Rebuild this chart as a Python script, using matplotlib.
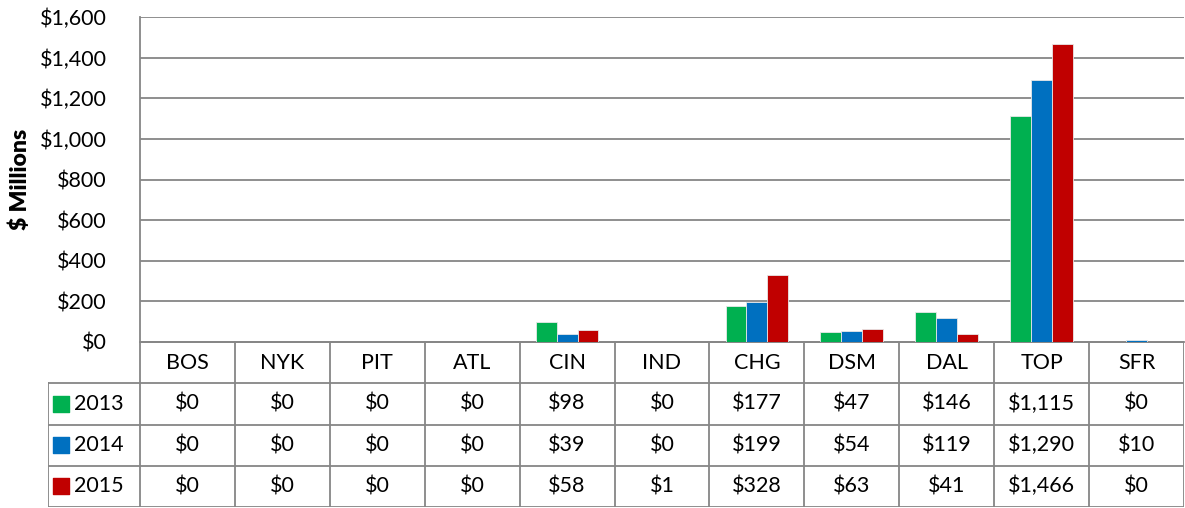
import matplotlib
matplotlib.use("Agg")
import matplotlib.pyplot as plt
import numpy as np

plt.rcParams["font.family"] = ["Lato", "DejaVu Sans"]

# data
cities = ["BOS", "NYK", "PIT", "ATL", "CIN", "IND", "CHG", "DSM", "DAL", "TOP", "SFR"]
years = ["2013", "2014", "2015"]
vals_2013 = [0, 0, 0, 0, 98, 0, 177, 47, 146, 1115, 0]
vals_2014 = [0, 0, 0, 0, 39, 0, 199, 54, 119, 1290, 10]
vals_2015 = [0, 0, 0, 0, 58, 1, 328, 63, 41, 1466, 0]
colors = ["#00B050", "#0070C0", "#C00000"]
y_ticks = [0, 200, 400, 600, 800, 1000, 1200, 1400, 1600]

W, H = 1185, 508
fig = plt.figure(figsize=(W / 100, H / 100), dpi=100)

def px_axes(x0, y0, x1, y1):
    # pixel box (top-left origin) -> figure axes
    return fig.add_axes([x0 / W, 1 - y1 / H, (x1 - x0) / W, (y1 - y0) / H])

grid_c = "#868686"
fs = 15.5

# main bar area
ax = px_axes(140, 17, 1184, 342)
n = len(cities)
x = np.arange(n)
bw = 0.22
series = [vals_2013, vals_2014, vals_2015]
for i, (vals, c) in enumerate(zip(series, colors)):
    ax.bar(x + (i - 1) * bw, vals, width=bw, color=c, edgecolor="#e8e8e8",
           linewidth=0.6, zorder=3)
ax.set_xlim(-0.5, n - 0.5)
ax.set_ylim(0, 1600)
ax.set_yticks(y_ticks)
ax.set_yticklabels([f"${v:,}" for v in y_ticks], fontsize=fs)
ax.yaxis.grid(True, color=grid_c, linewidth=1.3, zorder=0)
ax.tick_params(axis="y", length=0, pad=24)
ax.set_xticks([])
for s in ["top", "right"]:
    ax.spines[s].set_visible(False)
ax.spines["left"].set_color(grid_c)
ax.spines["left"].set_linewidth(1.3)
ax.spines["bottom"].set_color(grid_c)
ax.spines["bottom"].set_linewidth(1.3)
ax.set_ylabel("$ Millions", fontsize=16.5, fontweight="heavy", labelpad=6)

# data table underneath
leg_w = 92 / 95
tx = px_axes(48, 342, 1184, 507)
tx.set_xlim(-0.5 - leg_w, n - 0.5)
tx.set_ylim(-3, 1)
tx.axis("off")
lw = 1.3
# horizontal lines
tx.plot([-0.5, n - 0.5], [1, 1], color=grid_c, lw=lw)
for yy in [0, -1, -2, -3]:
    tx.plot([-0.5 - leg_w, n - 0.5], [yy, yy], color=grid_c, lw=lw)
# vertical lines
for k in range(n + 1):
    tx.plot([k - 0.5, k - 0.5], [-3, 1], color=grid_c, lw=lw)
tx.plot([-0.5 - leg_w, -0.5 - leg_w], [-3, 0], color=grid_c, lw=lw)

for j, c in enumerate(cities):
    tx.text(j, 0.5, c, ha="center", va="center", fontsize=fs)
for i, (yr, vals, col) in enumerate(zip(years, series, colors)):
    yc = -0.5 - i
    tx.scatter([-0.5 - leg_w + 0.14], [yc], marker="s", s=120, color=col)
    tx.text(-0.5 - leg_w + 0.27, yc, yr, ha="left", va="center", fontsize=fs)
    for j, v in enumerate(vals):
        tx.text(j, yc, f"${v:,}", ha="center", va="center", fontsize=fs)

fig.savefig("out.png", dpi=100)
